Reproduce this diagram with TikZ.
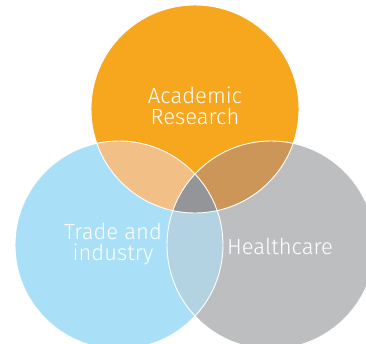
\documentclass[tikz,border=0pt]{standalone}
\usepackage{fontspec}
\setmainfont{Fira Sans}[UprightFont={* Light}]
\definecolor{cOr}{HTML}{F7A71E}
\definecolor{cBl}{HTML}{A9E0F8}
\definecolor{cGr}{HTML}{BCBEC0}
\definecolor{cOB}{HTML}{F2C087}
\definecolor{cOG}{HTML}{CC9658}
\definecolor{cBG}{HTML}{B4D3E2}
\definecolor{cAll}{HTML}{939598}
\tikzset{lbl/.style={text=white,font=\fontsize{22}{21}\selectfont,align=center,inner sep=0pt},
ring/.style={draw=white,line width=0.9pt}}
\begin{document}
\begin{tikzpicture}[x=1pt,y=-1pt]
\useasboundingbox (0,0) rectangle (366,343);
\clip (0,0) rectangle (366,343);
\coordinate (O) at (195,109);
\coordinate (B) at (119,245);
\coordinate (G) at (271,245);
\def\R{104pt}
\fill[cOr] (O) circle (\R);
\fill[cBl] (B) circle (\R);
\fill[cGr] (G) circle (\R);
\begin{scope}\clip (O) circle (\R); \fill[cOB] (B) circle (\R); \fill[cOG] (G) circle (\R);\end{scope}
\begin{scope}\clip (B) circle (\R); \fill[cBG] (G) circle (\R);\end{scope}
\begin{scope}\clip (O) circle (\R); \clip (B) circle (\R); \fill[cAll] (G) circle (\R);\end{scope}
\draw[ring] (O) circle (\R);
\draw[ring] (B) circle (\R);
\draw[ring] (G) circle (\R);
\node[lbl] (ac) at (195,106) {Academic\\Research};
\node[lbl] (tr) at (113,244) {Trade and\\industry};
\node[lbl] (he) at (280,246) {Healthcare};
\end{tikzpicture}
\end{document}
